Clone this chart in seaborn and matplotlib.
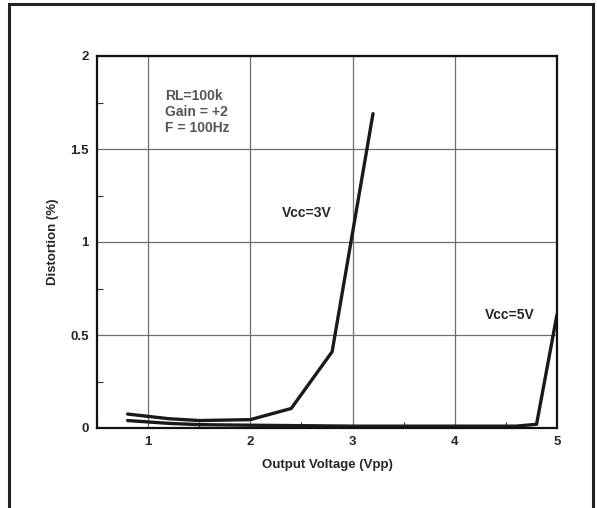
import matplotlib
matplotlib.use("Agg")
import matplotlib.pyplot as plt
import seaborn as sns
import pandas as pd
from matplotlib.patches import Rectangle
from matplotlib.ticker import MultipleLocator

# Data
vcc3_x = [0.8, 1.2, 1.5, 2.0, 2.4, 2.8, 3.2]
vcc3_y = [0.075, 0.05, 0.04, 0.045, 0.105, 0.41, 1.69]
vcc5_x = [0.8, 1.2, 1.5, 2.0, 3.0, 4.0, 4.6, 4.8, 5.0]
vcc5_y = [0.04, 0.025, 0.018, 0.015, 0.01, 0.01, 0.01, 0.02, 0.61]
x_ticks = [1, 2, 3, 4, 5]
y_ticks = [0, 0.5, 1, 1.5, 2]
y_tick_labels = ["0", "0.5", "1", "1.5", "2"]

df = pd.concat([
    pd.DataFrame({"V": vcc3_x, "D": vcc3_y, "s": "Vcc=3V"}),
    pd.DataFrame({"V": vcc5_x, "D": vcc5_y, "s": "Vcc=5V"}),
])

sns.set_style("white")
plt.rcParams['font.family'] = ['Liberation Sans', 'DejaVu Sans']

fig = plt.figure(figsize=(5.97, 5.08), dpi=100)
W, H = 597, 508
ax = fig.add_axes([97 / W, 1 - 428 / H, (557 - 97) / W, (428 - 56) / H])

sns.lineplot(data=df, x="V", y="D", units="s", estimator=None, color="#1a1a1a",
             linewidth=2.4, ax=ax, legend=False, sort=False)

ax.set_xlim(0.5, 5.0)
ax.set_ylim(0, 2)
ax.set_xticks(x_ticks)
ax.set_xticklabels([str(t) for t in x_ticks])
ax.set_yticks(y_ticks)
ax.set_yticklabels(y_tick_labels)
ax.xaxis.set_minor_locator(MultipleLocator(0.5))
ax.yaxis.set_minor_locator(MultipleLocator(0.25))
ax.tick_params(which="major", direction="in", length=0, labelsize=9.5, pad=6)
ax.tick_params(which="minor", direction="in", length=4, width=0.8, color="#333333")
ax.tick_params(axis="both", which="both", bottom=True, left=True, top=False, right=False)
for lab in ax.get_xticklabels() + ax.get_yticklabels():
    lab.set_fontweight("bold")

ax.grid(True, which="major", color="#6e6e6e", linewidth=0.9)
for sp in ax.spines.values():
    sp.set_visible(True)
    sp.set_color("#111111")
    sp.set_linewidth(1.6)

ax.set_xlabel("Output Voltage (Vpp)", fontsize=9.5, fontweight="bold", labelpad=8)
ax.set_ylabel("Distortion (%)", fontsize=9.5, fontweight="bold", labelpad=8)

ax.text(1.165, 1.70, "RL=100k\nGain = +2\nF = 100Hz", fontsize=10, fontweight="bold",
        color="#555555", ha="left", va="center", linespacing=1.2, multialignment="left")
ax.text(2.55, 1.156, "Vcc=3V", fontsize=10, fontweight="bold", ha="center", va="center")
ax.text(4.54, 0.61, "Vcc=5V", fontsize=10, fontweight="bold", ha="center", va="center")

# outer frame
fig.patches.append(Rectangle((9 / W, -0.1), (593 - 9) / W, 1.1 - 4 / H,
                             transform=fig.transFigure, fill=False,
                             edgecolor="#222222", linewidth=2.2))

fig.savefig("out.png", dpi=100)
